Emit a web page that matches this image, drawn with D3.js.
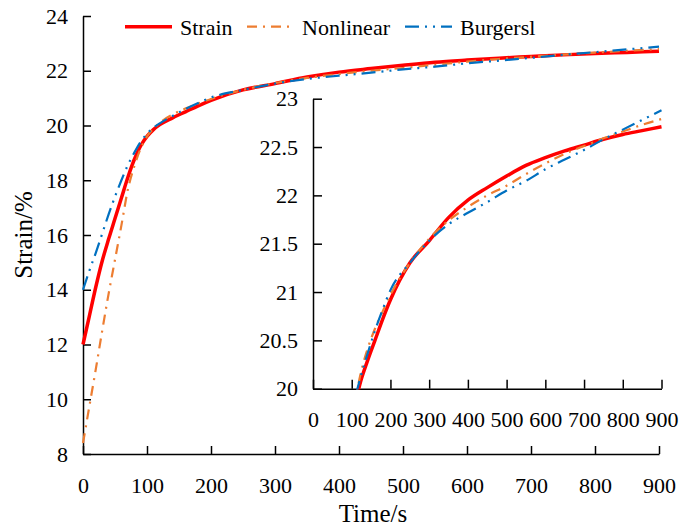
<!DOCTYPE html>
<html>
<head>
<meta charset="utf-8">
<script src="https://cdn.jsdelivr.net/npm/d3@7/dist/d3.min.js"></script>
<style>
  body { margin: 0; background: #fff; }
  svg text { font-family: 'Liberation Serif', serif; fill: #000; }
  .axis path, .axis line { stroke: #000; stroke-width: 1.5; }
</style>
</head>
<body>
<div id="main"></div>
<script>
// data
var times = [0, 10, 20, 30, 40, 50, 60, 70, 80, 90, 100, 110, 120, 140, 160, 180, 200, 250, 300, 350, 400, 450, 500, 550, 600, 650, 700, 750, 800, 850, 900];
var strain = [12.0, 13.05, 14.1, 15.05, 15.85, 16.6, 17.35, 18.1, 18.75, 19.25, 19.6, 19.85, 20.03, 20.28, 20.5, 20.72, 20.92, 21.3, 21.53, 21.77, 21.95, 22.08, 22.2, 22.31, 22.39, 22.46, 22.52, 22.58, 22.63, 22.67, 22.71];
var nonlinear = [8.4, 9.75, 11.1, 12.5, 13.85, 15.1, 16.35, 17.65, 18.5, 19.15, 19.6, 19.88, 20.1, 20.4, 20.62, 20.8, 20.97, 21.3, 21.55, 21.74, 21.88, 22.0, 22.1, 22.22, 22.33, 22.43, 22.51, 22.59, 22.66, 22.73, 22.79];
var burgers = [14.0, 14.7, 15.35, 16.05, 16.75, 17.4, 18.0, 18.55, 19.0, 19.4, 19.7, 19.92, 20.08, 20.35, 20.6, 20.82, 21.02, 21.3, 21.53, 21.7, 21.82, 21.93, 22.05, 22.15, 22.27, 22.37, 22.47, 22.58, 22.68, 22.78, 22.88];

var seriesNames = ["Strain", "Nonlinear", "Burgersl"];
var mainYTicks = [8, 10, 12, 14, 16, 18, 20, 22, 24];
var insetYTicks = [20, 20.5, 21, 21.5, 22, 22.5, 23];
var xTicks = [0, 100, 200, 300, 400, 500, 600, 700, 800, 900];

var width = 679;
var height = 529;
var serif = "'Liberation Serif', serif";

var svg = d3.select('#main')
  .append('svg')
  .attr('width', width)
  .attr('height', height);

var styles = [
  { color: '#ff0000', width: 3.5, dash: null },
  { color: '#ED7D31', width: 2.2, dash: '10,6,2,6' },
  { color: '#0070C0', width: 2.2, dash: '14,6,2,6,2,6' }
];

var series = [strain, nonlinear, burgers].map(function(vals, i) {
  return { name: seriesNames[i], style: styles[i], points: times.map(function(t, j) { return [t, vals[j]]; }) };
});

function styleAxis(g) {
  g.attr('font-family', serif);
  g.selectAll('text').style('font-size', '22px').style('font-family', serif);
}

// main chart
var x = d3.scaleLinear().domain([0, 900]).range([83, 659]);
var y = d3.scaleLinear().domain([8, 24]).range([454, 16]);

svg.append('g')
  .attr('class', 'axis')
  .attr('transform', 'translate(0,454)')
  .call(d3.axisBottom(x).tickValues(xTicks).tickFormat(String).tickSizeInner(-8).tickSizeOuter(0).tickPadding(23))
  .call(styleAxis);

svg.append('g')
  .attr('class', 'axis')
  .attr('transform', 'translate(83,0)')
  .call(d3.axisLeft(y).tickValues(mainYTicks).tickFormat(String).tickSizeInner(-8).tickSizeOuter(0).tickPadding(15))
  .call(styleAxis);

var line = d3.line()
  .curve(d3.curveMonotoneX)
  .x(function(d) { return x(d[0]); })
  .y(function(d) { return y(d[1]); });

svg.append('g').selectAll('path')
  .data(series)
  .enter().append('path')
  .attr('fill', 'none')
  .attr('stroke', function(d) { return d.style.color; })
  .attr('stroke-width', function(d) { return d.style.width; })
  .attr('stroke-dasharray', function(d) { return d.style.dash; })
  .attr('d', function(d) { return line(d.points); });

svg.append('text')
  .attr('x', 373)
  .attr('y', 522)
  .attr('text-anchor', 'middle')
  .style('font-family', serif)
  .style('font-size', '25px')
  .text('Time/s');

svg.append('text')
  .attr('transform', 'translate(32,235) rotate(-90)')
  .attr('text-anchor', 'middle')
  .style('font-family', serif)
  .style('font-size', '25px')
  .text('Strain/%');

// inset
var xi = d3.scaleLinear().domain([0, 900]).range([313, 661.5]);
var yi = d3.scaleLinear().domain([20, 23]).range([388.7, 98.7]);

svg.append('clipPath')
  .attr('id', 'insetClip')
  .append('rect')
  .attr('x', 313)
  .attr('y', 98)
  .attr('width', 352)
  .attr('height', 291.5);

svg.append('g')
  .attr('class', 'axis')
  .attr('transform', 'translate(0,388.7)')
  .call(d3.axisBottom(xi).tickValues(xTicks).tickFormat(String).tickSizeInner(-9).tickSizeOuter(0).tickPadding(23))
  .call(styleAxis);

svg.append('g')
  .attr('class', 'axis')
  .attr('transform', 'translate(313,0)')
  .call(d3.axisLeft(yi).tickValues(insetYTicks).tickFormat(String).tickSizeInner(-9).tickSizeOuter(0).tickPadding(15))
  .call(styleAxis);

var insetLine = d3.line()
  .curve(d3.curveMonotoneX)
  .x(function(d) { return xi(d[0]); })
  .y(function(d) { return yi(d[1]); });

svg.append('g')
  .attr('clip-path', 'url(#insetClip)')
  .selectAll('path')
  .data(series)
  .enter().append('path')
  .attr('fill', 'none')
  .attr('stroke', function(d) { return d.style.color; })
  .attr('stroke-width', function(d) { return d.style.width; })
  .attr('stroke-dasharray', function(d) { return d.style.dash; })
  .attr('d', function(d) { return insetLine(d.points); });

// legend
var legendX = [125, 247, 405];
var legend = svg.append('g').attr('class', 'legend');
series.forEach(function(s, i) {
  legend.append('line')
    .attr('x1', legendX[i])
    .attr('x2', legendX[i] + 47)
    .attr('y1', 26.7)
    .attr('y2', 26.7)
    .attr('stroke', s.style.color)
    .attr('stroke-width', s.style.width)
    .attr('stroke-dasharray', s.style.dash);
  legend.append('text')
    .attr('x', legendX[i] + 55)
    .attr('y', 35)
    .style('font-family', serif)
    .style('font-size', '22px')
    .text(s.name);
});
</script>
</body>
</html>
